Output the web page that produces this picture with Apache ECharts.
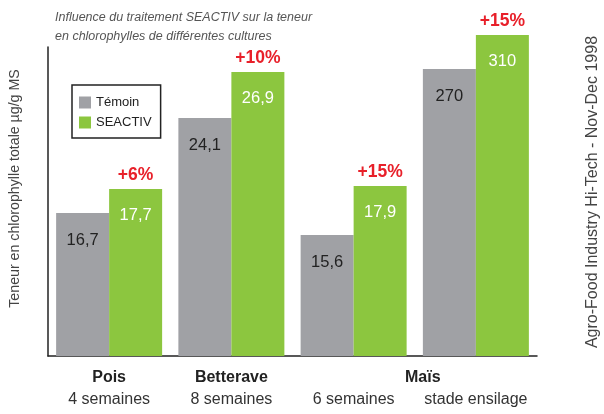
<!DOCTYPE html>
<html><head><meta charset="utf-8">
<script src="https://cdn.jsdelivr.net/npm/echarts@6/dist/echarts.min.js"></script>
<style>html,body{margin:0;padding:0;background:#fff}#c{width:604px;height:414px}</style>
</head><body><div id="c"></div>
<script>
// Categories (crop + stage)
const crops = ['Pois', 'Betterave', 'Maïs', 'Maïs'];
const stages = ['4 semaines', '8 semaines', '6 semaines', 'stade ensilage'];
// Printed values (µg/g MS)
const temoinValues = [16.7, 24.1, 15.6, 270];
const seactivValues = [17.7, 26.9, 17.9, 310];
const gainPct = [6, 10, 15, 15];
// Drawn bar heights (the original uses no common scale)
const temoinHeights = [143, 238, 121, 287];
const seactivHeights = [167, 284, 170, 321];
const yMax = 309;

const SANS = "'Liberation Sans',Arial,Helvetica,sans-serif";
const fmt = v => String(v).replace('.', ',');

// Maïs is shared by the last two groups and drawn once between them
const categoryLabels = crops.map((c, i) =>
  (i >= 2) ? '{b| }\n{s|' + stages[i] + '}' : '{b|' + c + '}\n{s|' + stages[i] + '}');

const chart = echarts.init(document.getElementById('c'), null, {renderer: 'canvas'});
chart.setOption({
  animation: false,
  backgroundColor: '#fff',
  title: {
    text: 'Influence du traitement SEACTIV sur la teneur\nen chlorophylles de différentes cultures',
    left: 55, top: 8, padding: 0,
    textStyle: {fontFamily: SANS, fontStyle: 'italic', fontWeight: 'normal', fontSize: 12.5, lineHeight: 19, color: '#555'}
  },
  legend: {
    data: ['Témoin', 'SEACTIV'],
    orient: 'vertical', left: 72, top: 85,
    padding: [11, 9, 9, 7],
    itemWidth: 12, itemHeight: 12, itemGap: 7, itemTextGap: 5,
    borderColor: '#222', borderWidth: 1.5, borderRadius: 0,
    icon: 'rect',
    textStyle: {fontFamily: SANS, fontSize: 13, color: '#222'}
  },
  grid: {left: 48, top: 47, width: 489, bottom: 58, containLabel: false, outerBoundsMode: 'none'},
  xAxis: {
    type: 'category', data: categoryLabels,
    axisLine: {lineStyle: {color: '#222', width: 1.5}},
    axisTick: {show: false},
    axisLabel: {
      interval: 0, margin: 11,
      rich: {
        b: {fontFamily: SANS, fontWeight: 'bold', fontSize: 16, lineHeight: 22, color: '#222'},
        s: {fontFamily: SANS, fontSize: 16, lineHeight: 22, color: '#333'}
      },
      formatter: v => v
    }
  },
  yAxis: {
    type: 'value', min: 0, max: yMax,
    axisLine: {show: true, lineStyle: {color: '#222', width: 1.5}},
    axisTick: {show: false}, axisLabel: {show: false}, splitLine: {show: false},
    name: 'Teneur en chlorophylle totale µg/g MS',
    nameLocation: 'middle', nameRotate: 90, nameGap: 26,
    nameTextStyle: {fontFamily: SANS, fontSize: 14.2, color: '#444', padding: [0, 0, 0, 26]}
  },
  graphic: [
    {type: 'text', left: 405, top: 370,
     style: {text: 'Maïs', font: 'bold 16px ' + SANS, fill: '#222'}},
    {type: 'text', x: 593, y: 192, rotation: Math.PI / 2,
     style: {text: 'Agro-Food Industry Hi-Tech - Nov-Dec 1998', font: '16px ' + SANS, fill: '#444', align: 'center', verticalAlign: 'middle'}}
  ],
  series: [
    {
      name: 'Témoin', type: 'bar', data: temoinHeights, barWidth: 53, barGap: '0%', clip: false,
      itemStyle: {color: '#a0a1a5'},
      label: {show: true, position: 'insideTop', distance: 17, fontFamily: SANS, fontSize: 16.5, lineHeight: 20, color: '#222',
        formatter: p => fmt(temoinValues[p.dataIndex])}
    },
    {
      name: 'SEACTIV', type: 'bar', data: seactivHeights, barWidth: 53, barGap: '0%', clip: false,
      itemStyle: {color: '#8cc63f'},
      label: {show: true, position: 'insideTop', distance: 0, offset: [0, -34],
        formatter: p => '{p|+' + gainPct[p.dataIndex] + '%}\n{v|' + fmt(seactivValues[p.dataIndex]) + '}',
        rich: {
          p: {fontFamily: SANS, fontWeight: 'bold', fontSize: 17.5, lineHeight: 40, color: '#e8202a'},
          v: {fontFamily: SANS, fontSize: 16.5, lineHeight: 40, color: '#fff'}
        }}
    }
  ]
});
</script></body></html>
